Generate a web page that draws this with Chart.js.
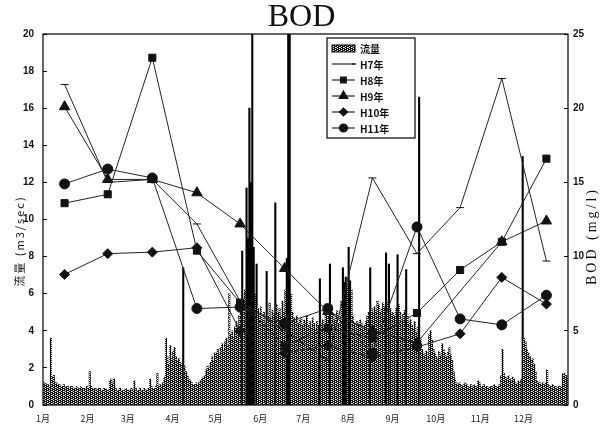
<!DOCTYPE html>
<html>
<head>
<meta charset="utf-8">
<script src="https://cdn.jsdelivr.net/npm/chart.js@4/dist/chart.umd.min.js"></script>
<style>
html, body { margin: 0; padding: 0; background: #fff; }
</style>
</head>
<body>
<canvas id="bod-chart" width="603" height="427"></canvas>
<script>
// month axis
var monthLabels = ['1月', '2月', '3月', '4月', '5月', '6月', '7月', '8月', '9月', '10月', '11月', '12月'];
var monthStartDays = [0, 31, 59, 90, 120, 151, 181, 212, 243, 273, 304, 334];
// days of the year the BOD samples were taken
var sampleDays = [15, 45, 76, 107, 137, 168, 198, 229, 260, 290, 319, 350];

// daily flow (m3/sec), one array per month
var flowJan = [1.2,1.2,1.1,1.1,1.0,3.6,1.5,1.6,1.2,1.2,1.1,1.1,1.0,1.0,1.1,1.0,1.0,1.0,0.9,1.0,1.0,0.9,0.9,1.0,0.9,0.9,1.0,0.9,0.9,0.9,1.0];
var flowFeb = [0.9,1.8,1.0,0.9,0.9,0.9,0.8,0.9,0.9,0.8,0.8,0.9,0.9,0.8,0.8,1.3,1.4,1.2,1.4,0.9,0.8,0.8,0.9,0.8,0.8,0.8,0.9,0.8];
var flowMar = [0.8,0.8,0.9,0.8,1.3,0.9,0.8,0.8,0.9,0.8,0.8,0.9,0.8,0.8,0.9,1.4,1.0,0.9,0.9,1.0,1.7,1.0,1.1,1.0,1.2,1.5,3.6,2.6,2.2,3.2,2.5];
var flowApr = [2.9,3.1,2.6,2.4,2.5,2.3,2.2,7.4,2.1,1.8,1.6,1.4,1.3,1.2,1.1,1.1,1.2,1.1,1.2,1.3,1.4,1.5,1.6,1.9,2.1,2.0,2.3,2.6,2.4,2.8];
var flowMay = [2.8,3.0,2.7,3.1,3.3,3.0,3.4,3.6,3.2,6.0,3.8,4.0,3.7,4.2,4.5,4.0,4.8,5.2,8.3,5.5,6.2,11.7,9.0,16.0,12.0,24,8.5,6.0,7.6,5.2,4.8];
var flowJun = [5.3,4.6,5.0,4.4,7.2,4.8,5.5,4.6,5.1,4.9,10.9,5.4,5.0,5.2,4.8,5.6,5.0,6.2,7.9,26,22,6.0,5.0,4.7,4.5,4.8,4.4,4.6,4.7,4.3];
var flowJul = [4.6,4.4,4.8,4.3,4.5,4.2,4.7,4.4,4.1,4.5,4.3,6.8,4.4,4.6,4.2,4.9,5.2,4.8,7.6,5.4,5.0,4.6,4.8,5.1,4.4,4.7,5.6,7.4,6.6,6.9,6.5];
var flowAug = [8.5,6.7,6.2,4.8,4.4,4.2,4.5,4.3,4.6,4.4,4.1,4.3,4.5,4.8,5.0,7.4,5.2,5.0,5.3,5.1,5.6,5.4,5.0,5.2,5.5,5.3,8.2,5.6,7.6,5.2,4.9];
var flowSep = [5.0,4.8,5.2,8.1,5.4,5.0,4.6,4.9,5.1,7.3,4.8,4.4,4.6,4.3,4.1,4.5,3.9,4.2,16.6,3.6,3.0,2.8,2.7,2.9,2.6,3.8,4.0,3.5,3.0,2.8];
var flowOct = [2.6,2.5,2.9,2.7,3.3,3.0,2.8,2.6,2.9,3.1,2.7,2.4,1.8,1.4,1.2,1.1,1.2,1.1,1.0,1.1,1.2,1.1,1.0,1.0,1.1,1.0,1.1,1.0,1.0,1.3,1.2];
var flowNov = [1.0,1.0,1.1,1.0,1.0,0.9,1.0,1.0,1.0,1.1,1.0,1.0,1.0,1.1,1.6,3.0,1.7,1.5,1.4,1.6,1.4,1.3,1.5,1.4,1.2,1.1,1.3,1.2,1.4,13.4];
var flowDec = [3.6,3.4,3.0,2.8,2.6,2.4,2.5,2.2,1.8,1.3,1.2,1.2,1.1,1.2,1.1,1.2,1.9,1.1,1.0,1.0,1.1,1.0,1.0,0.9,1.0,1.0,1.0,1.7,1.7,1.6,1.5];

// BOD (mg/l) by year, one value per month (null = no sample)
var bodH7  = [21.6, 15.0, 15.2, 12.2, 7.0, 5.0, 3.0, 15.3, 10.2, 13.3, 22.0, 9.7];
var bodH8  = [13.6, 14.2, 23.4, 10.4, 6.9, 4.0, 5.2, 4.5, 6.2, 9.1, 11.0, 16.6];
var bodH9  = [20.1, 15.2, 15.2, 14.3, 12.2, 9.2, 6.3, 5.0, 4.2, null, 11.0, 12.4];
var bodH10 = [8.8, 10.2, 10.3, 10.6, 5.0, 3.5, 4.0, 3.2, 3.9, 4.8, 8.6, 6.8];
var bodH11 = [14.9, 15.9, 15.3, 6.5, 6.6, 5.5, 6.5, 3.5, 12.0, 5.8, 5.4, 7.4];

var flow = [].concat(flowJan, flowFeb, flowMar, flowApr, flowMay, flowJun,
                     flowJul, flowAug, flowSep, flowOct, flowNov, flowDec);

// speckled fill like the printed original
function makeSpeckle() {
    var c = document.createElement('canvas');
    c.width = 4; c.height = 4;
    var g = c.getContext('2d');
    g.fillStyle = '#111';
    g.fillRect(0, 0, 4, 4);
    g.fillStyle = '#fff';
    g.fillRect(1, 0, 1, 1);
    g.fillRect(3, 1, 1, 1);
    g.fillRect(1, 2, 1, 1);
    g.fillRect(3, 3, 1, 1);
    g.fillStyle = '#aaa';
    g.fillRect(0, 3, 1, 1);
    return g.createPattern(c, 'repeat');
}
var speckle = makeSpeckle();

function bodLine(label, values, style, radius) {
    return {
        type: 'line',
        label: label,
        yAxisID: 'y2',
        data: sampleDays.map(function(d, i) { return {x: d, y: values[i]}; }),
        spanGaps: true,
        borderColor: '#222',
        borderWidth: 1,
        backgroundColor: '#111',
        pointBackgroundColor: '#111',
        pointBorderColor: '#111',
        pointBorderWidth: 1,
        pointStyle: style,
        pointRadius: radius,
        tension: 0,
        order: 1
    };
}

var serif = "'Liberation Serif', 'DejaVu Serif', serif";
var tickFont = {family: "'Liberation Sans Narrow', 'Liberation Sans', sans-serif", size: 10, weight: 'bold'};
var jpFont = "'Noto Sans CJK JP', sans-serif";

// frame round the plot area
var framePlugin = {
    id: 'frame',
    afterDatasetsDraw: function(chart) {
        var a = chart.chartArea, ctx = chart.ctx;
        ctx.save();
        ctx.strokeStyle = '#000';
        ctx.lineWidth = 1.2;
        ctx.strokeRect(a.left, a.top, a.right - a.left, a.bottom - a.top);
        ctx.restore();
    }
};

// axis titles (the right one reads bottom to top, like the left)
var axisTitles = {
    id: 'axisTitles',
    afterDraw: function(chart) {
        var ctx = chart.ctx;
        ctx.save();
        ctx.fillStyle = '#111';
        ctx.textAlign = 'center';
        ctx.textBaseline = 'middle';
        ctx.letterSpacing = '2px';
        ctx.translate(20, 241);
        ctx.rotate(-Math.PI / 2);
        ctx.font = '11px ' + jpFont;
        ctx.fillText('流量 (m3/sec)', 0, 0);
        ctx.restore();

        ctx.save();
        ctx.fillStyle = '#111';
        ctx.textAlign = 'center';
        ctx.textBaseline = 'middle';
        ctx.letterSpacing = '3px';
        ctx.translate(592, 236);
        ctx.rotate(-Math.PI / 2);
        ctx.font = '14px ' + serif;
        ctx.fillText('BOD (mg/l)', 0, 0);
        ctx.restore();
    }
};

// boxed legend inside the plot, upper middle
var legendBox = {
    id: 'legendBox',
    afterDraw: function(chart) {
        var a = chart.chartArea, ctx = chart.ctx;
        var x = a.left + 284, y = a.top + 4, w = 88, h = 100;
        ctx.save();
        ctx.fillStyle = '#fff';
        ctx.fillRect(x, y, w, h);
        ctx.strokeStyle = '#000';
        ctx.lineWidth = 1.2;
        ctx.strokeRect(x, y, w, h);
        ctx.font = 'bold 10px ' + jpFont;
        ctx.textBaseline = 'middle';
        var sets = chart.data.datasets;
        var order = [5, 0, 1, 2, 3, 4];
        order.forEach(function(di, row) {
            var ds = sets[di];
            var cy = y + 10 + row * 16;
            var sx = x + 5, ex = x + 28;
            if (ds.type === 'bar') {
                ctx.fillStyle = speckle;
                ctx.fillRect(sx, cy - 3, ex - sx, 7);
                ctx.strokeStyle = '#000';
                ctx.lineWidth = 1;
                ctx.strokeRect(sx, cy - 3, ex - sx, 7);
            } else {
                ctx.strokeStyle = ds.borderColor;
                ctx.lineWidth = 1.2;
                ctx.beginPath();
                ctx.moveTo(sx, cy);
                ctx.lineTo(ex, cy);
                ctx.stroke();
                ctx.fillStyle = ds.pointBackgroundColor;
                ctx.strokeStyle = ds.pointBorderColor;
                if (ds.pointStyle === 'line') {
                    Chart.helpers.drawPoint(ctx, {pointStyle: 'line', radius: 2, borderWidth: 1.5}, ex - 1, cy);
                } else {
                    Chart.helpers.drawPoint(ctx, {pointStyle: ds.pointStyle, radius: ds.pointRadius - 1, borderWidth: 1}, (sx + ex) / 2, cy);
                }
            }
            ctx.fillStyle = '#111';
            ctx.fillText(ds.label, x + 33, cy + 1);
        });
        ctx.restore();
    }
};

var ctx = document.getElementById('bod-chart');
new Chart(ctx, {
    type: 'bar',
    data: {
        datasets: [
            bodLine('H7年', bodH7, 'line', 4),
            bodLine('H8年', bodH8, 'rect', 5),
            bodLine('H9年', bodH9, 'triangle', 6),
            bodLine('H10年', bodH10, 'rectRot', 5),
            bodLine('H11年', bodH11, 'circle', 5),
            {
                type: 'bar',
                label: '流量',
                yAxisID: 'y',
                data: flow.map(function(v, i) { return {x: i + 0.5, y: v}; }),
                // isolated spikes print as solid black strokes
                backgroundColor: function(c) {
                    return c.raw && c.raw.y > 6.5 ? '#000' : speckle;
                },
                borderWidth: 0,
                barPercentage: 1,
                categoryPercentage: 1,
                order: 10
            }
        ]
    },
    options: {
        responsive: false,
        animation: false,
        layout: {padding: 0},
        plugins: {
            legend: {display: false},
            tooltip: {enabled: false},
            title: {
                display: true,
                text: 'BOD',
                color: '#111',
                font: {family: serif, size: 32, weight: 'normal', lineHeight: 1},
                padding: {top: 2, bottom: 0}
            }
        },
        scales: {
            x: {
                type: 'linear',
                min: 0,
                max: 365,
                offset: false,
                border: {display: false},
                grid: {drawOnChartArea: false, drawTicks: true, tickLength: -4, color: '#000'},
                afterBuildTicks: function(scale) {
                    scale.ticks = monthStartDays.map(function(d) { return {value: d}; });
                },
                ticks: {
                    autoSkip: false,
                    maxRotation: 0,
                    padding: 12,
                    color: '#222',
                    font: {family: jpFont, size: 9},
                    callback: function(v, i) { return monthLabels[i]; }
                },
                afterFit: function(scale) { scale.height = 22; }
            },
            y: {
                position: 'left',
                min: 0,
                max: 20,
                border: {display: false},
                grid: {drawOnChartArea: false, drawTicks: true, tickLength: -4, color: '#000'},
                ticks: {stepSize: 2, padding: 13, color: '#111', font: tickFont},
                afterFit: function(scale) { scale.width = 43; }
            },
            y2: {
                position: 'right',
                min: 0,
                max: 25,
                border: {display: false},
                grid: {drawOnChartArea: false, drawTicks: true, tickLength: -4, color: '#000'},
                ticks: {stepSize: 5, padding: 9, color: '#111', font: tickFont},
                afterFit: function(scale) { scale.width = 35; }
            }
        }
    },
    plugins: [framePlugin, axisTitles, legendBox]
});
</script>
</body>
</html>
